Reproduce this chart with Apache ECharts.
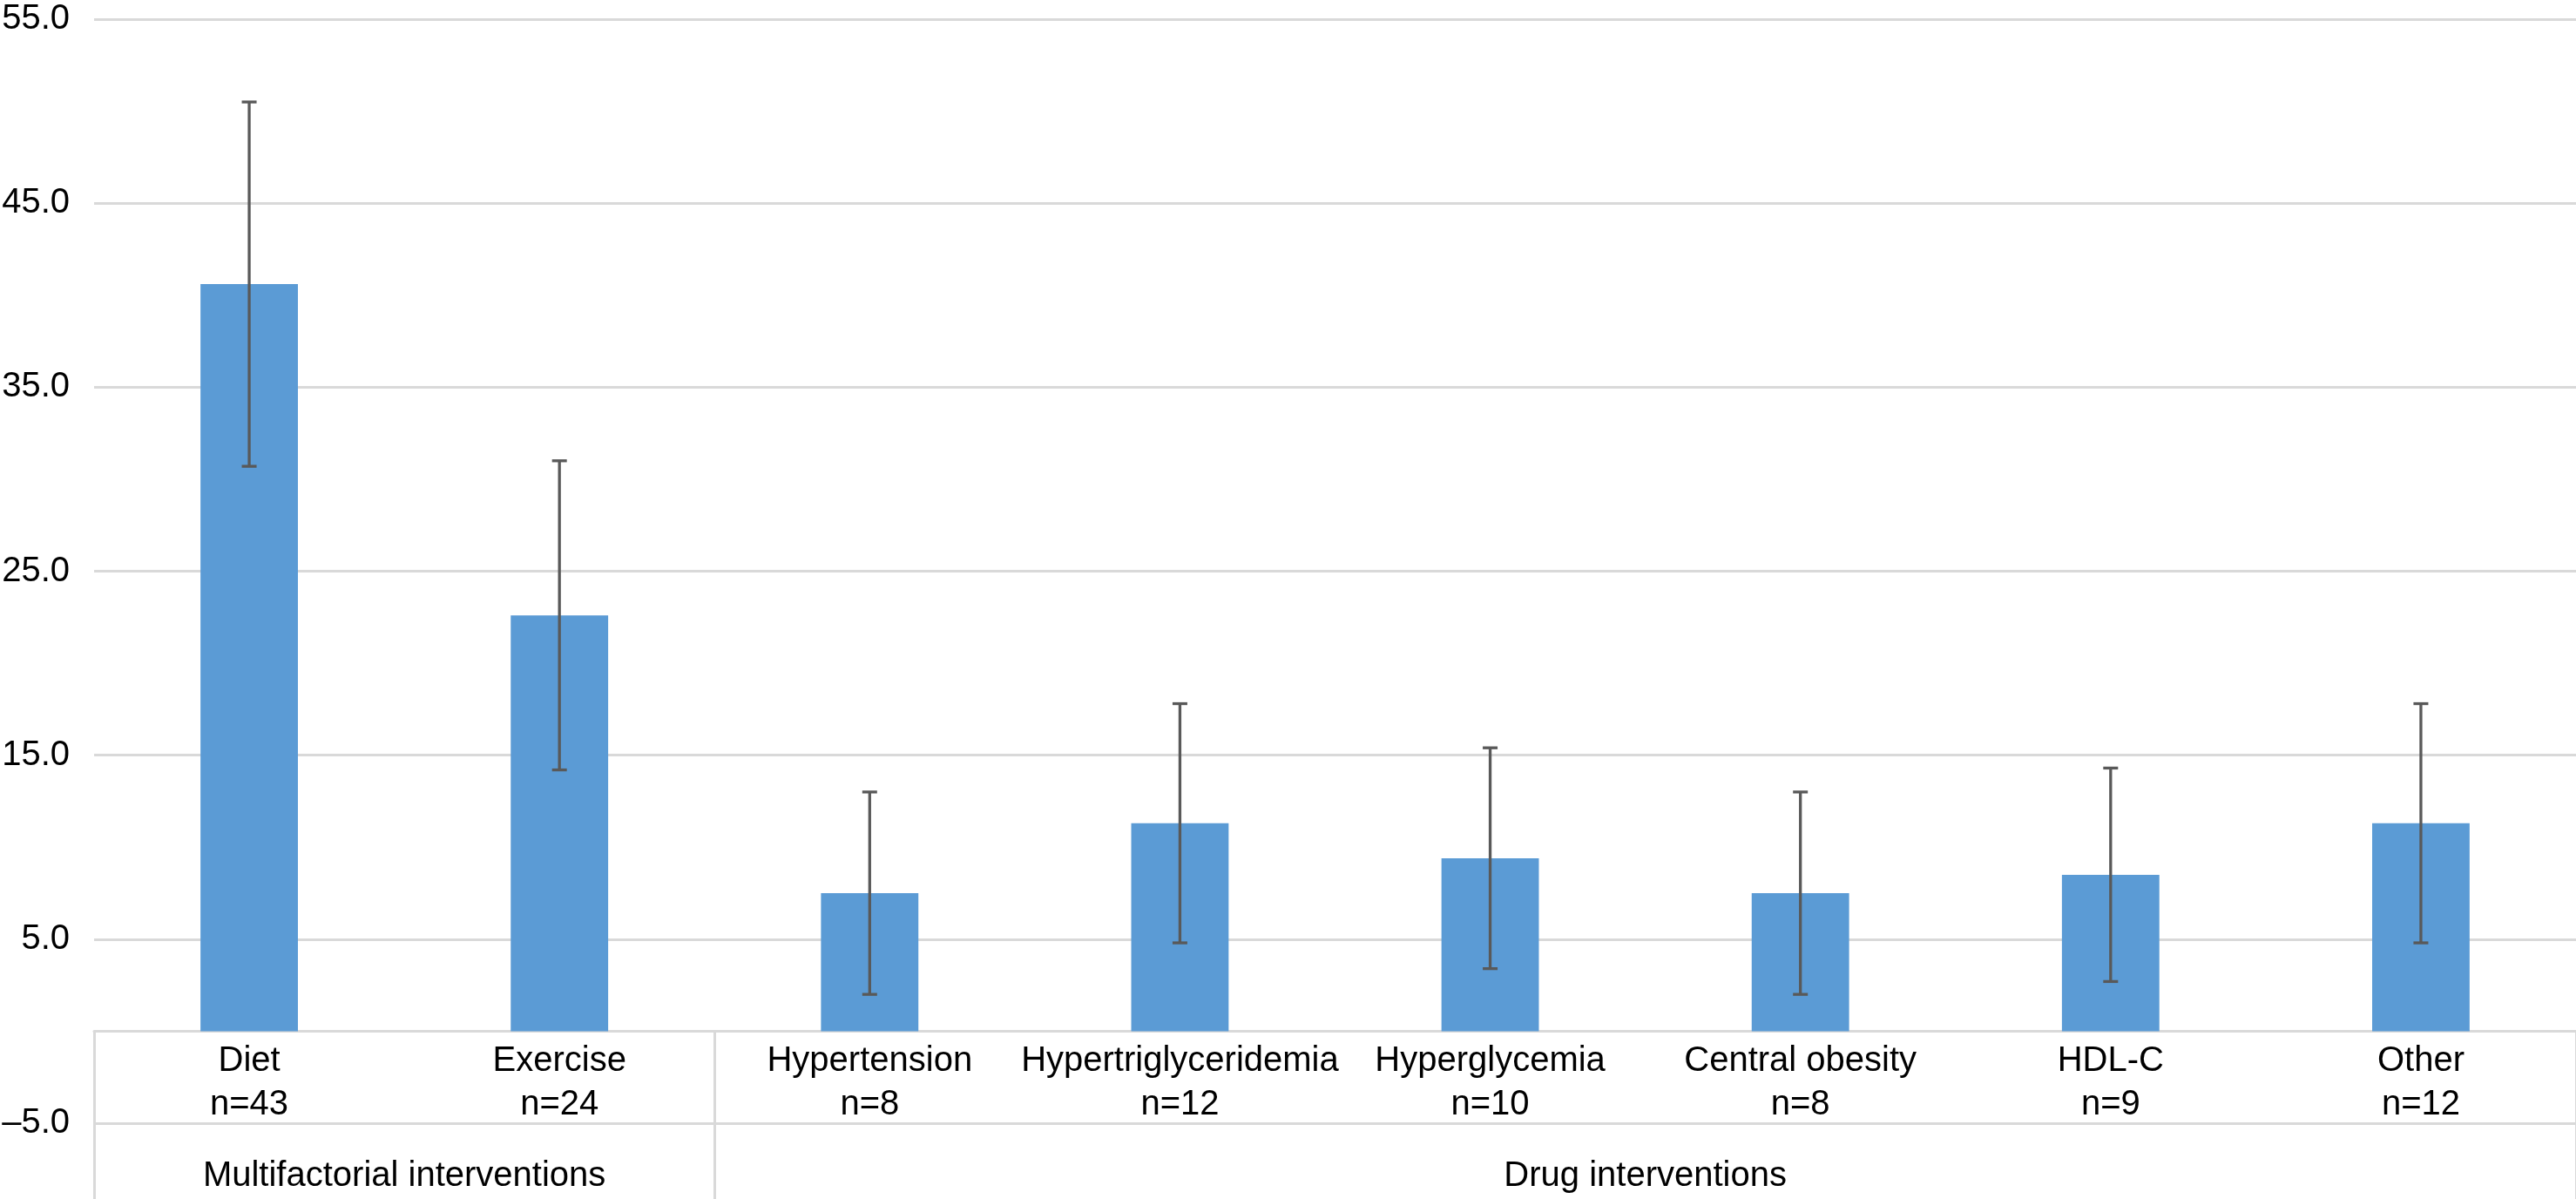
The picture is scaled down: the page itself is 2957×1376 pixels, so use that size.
<!DOCTYPE html>
<html>
<head>
<meta charset="utf-8">
<script src="https://cdn.jsdelivr.net/npm/echarts@6/dist/echarts.min.js"></script>
<style>
html,body{margin:0;padding:0;background:#fff;}
#chart{width:2957px;height:1376px;}
</style>
</head>
<body>
<div id="chart"></div>
<script>
// ---- data ----
const categories = ['Diet', 'Exercise', 'Hypertension', 'Hypertriglyceridemia', 'Hyperglycemia', 'Central obesity', 'HDL-C', 'Other'];
const sampleSizes = [43, 24, 8, 12, 10, 8, 9, 12];
const means = [40.6, 22.6, 7.5, 11.3, 9.4, 7.5, 8.5, 11.3];
const lowerBounds = [30.7, 14.2, 2.0, 4.8, 3.4, 2.0, 2.7, 4.8];
const upperBounds = [50.5, 31.0, 13.0, 17.8, 15.4, 13.0, 14.3, 17.8];
const groupNames = ['Multifactorial interventions', 'Drug interventions'];
const groupSpans = [2, 6]; // number of categories in each group
const yTicks = [-5, 5, 15, 25, 35, 45, 55];

// derived helpers for the group axis
const groupCenters = [];
const groupBounds = [0];
let acc = 0;
groupSpans.forEach(function (s) { groupCenters.push(acc + s / 2); acc += s; groupBounds.push(acc); });

const FONT = "'Liberation Sans', Arial, Helvetica, sans-serif";
const GRID_COLOR = '#D9D9D9';
const GRID_TOP = 22, GRID_BOTTOM = 87, H = 1376;
// shift of the category band from the grid bottom (y = min) up to y = 0
const yMin = yTicks[0], yMax = yTicks[yTicks.length - 1];
const zeroShift = -(H - GRID_TOP - GRID_BOTTOM) * (0 - yMin) / (yMax - yMin);

const chart = echarts.init(document.getElementById('chart'));
chart.setOption({
  animation: false,
  backgroundColor: '#ffffff',
  textStyle: { fontFamily: FONT },
  grid: { left: 108, right: 0, top: GRID_TOP, bottom: GRID_BOTTOM, containLabel: false, outerBoundsMode: 'none' },
  xAxis: [
    {
      type: 'category',
      data: categories.map(function (c, i) { return c + '\nn=' + sampleSizes[i]; }),
      boundaryGap: true,
      position: 'bottom',
      offset: zeroShift,
      axisLine: { show: true, onZero: false, lineStyle: { color: GRID_COLOR, width: 3 } },
      axisTick: { show: false },
      axisLabel: { interval: 0, color: '#000', fontSize: 40, lineHeight: 50, margin: 10, fontFamily: FONT },
      splitLine: { show: false }
    },
    {
      type: 'value',
      position: 'bottom',
      offset: zeroShift,
      min: 0,
      max: categories.length,
      axisLine: { show: false, onZero: false },
      axisTick: {
        show: true, inside: false, length: 193,
        customValues: groupBounds,
        lineStyle: { color: GRID_COLOR, width: 3 }
      },
      axisLabel: {
        show: true,
        customValues: groupCenters,
        formatter: function (v) {
          const idx = groupCenters.indexOf(v);
          return idx >= 0 ? groupNames[idx] : '';
        },
        color: '#000', fontSize: 40, lineHeight: 50, margin: 142, fontFamily: FONT
      },
      splitLine: { show: false }
    }
  ],
  yAxis: {
    type: 'value',
    min: yMin,
    max: yMax,
    interval: 10,
    axisLine: { show: false, onZero: false },
    axisTick: { show: false },
    axisLabel: {
      color: '#000', fontSize: 40, margin: 28, fontFamily: FONT,
      formatter: function (v) { return v.toFixed(1).replace('-', '\u2013'); }
    },
    splitLine: { show: true, lineStyle: { color: GRID_COLOR, width: 3 } }
  },
  series: [
    {
      type: 'bar',
      xAxisIndex: 0,
      data: means,
      barWidth: '31.4%',
      itemStyle: { color: '#5B9BD5' }
    },
    {
      type: 'custom',
      xAxisIndex: 0,
      data: categories.map(function (c, i) { return [i, lowerBounds[i], upperBounds[i]]; }),
      renderItem: function (params, api) {
        const x = api.value(0);
        const lo = api.coord([x, api.value(1)]);
        const hi = api.coord([x, api.value(2)]);
        const cap = 8.5;
        const style = { stroke: '#595959', lineWidth: 3.3 };
        return {
          type: 'group',
          children: [
            { type: 'line', shape: { x1: hi[0], y1: hi[1], x2: lo[0], y2: lo[1] }, style: style },
            { type: 'line', shape: { x1: hi[0] - cap, y1: hi[1], x2: hi[0] + cap, y2: hi[1] }, style: style },
            { type: 'line', shape: { x1: lo[0] - cap, y1: lo[1], x2: lo[0] + cap, y2: lo[1] }, style: style }
          ]
        };
      },
      z: 10
    }
  ]
});
</script>
</body>
</html>
